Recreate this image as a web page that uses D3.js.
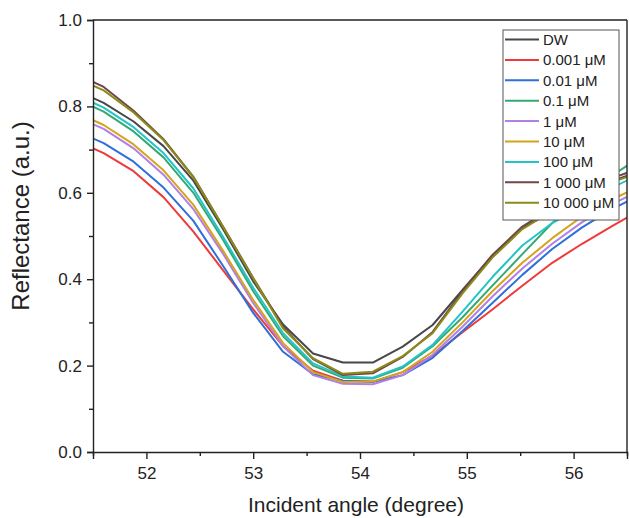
<!DOCTYPE html>
<html><head><meta charset="utf-8">
<script src="https://cdn.jsdelivr.net/npm/d3@7/dist/d3.min.js"></script>
<style>
html,body{margin:0;padding:0;background:#fff;}
svg text{font-family:"Liberation Sans",Arial,sans-serif;}
</style>
</head><body>
<svg id="chart" width="629" height="518"></svg>
<script>
// ---- data ----
const angles = [51.32, 51.60, 51.88, 52.16, 52.44, 52.72, 53.00, 53.28, 53.56, 53.84, 54.12, 54.40, 54.68, 54.96, 55.24, 55.52, 55.80, 56.08, 56.36, 56.64];
const seriesNames = ["DW", "0.001 μM", "0.01 μM", "0.1 μM", "1 μM", "10 μM", "100 μM", "1 000 μM", "10 000 μM"];
const seriesColors = ["#474747", "#ef3a3a", "#2e6fd9", "#35a974", "#b27fe6", "#d4a41c", "#22c4c8", "#6f4747", "#8b8b18"];
const dw     = [0.840, 0.808, 0.765, 0.708, 0.628, 0.515, 0.395, 0.295, 0.228, 0.207, 0.207, 0.244, 0.294, 0.375, 0.455, 0.520, 0.555, 0.592, 0.627, 0.652];
const c0001  = [0.722, 0.692, 0.650, 0.590, 0.510, 0.420, 0.330, 0.245, 0.188, 0.165, 0.163, 0.185, 0.223, 0.277, 0.330, 0.385, 0.438, 0.482, 0.523, 0.562];
const c001   = [0.745, 0.715, 0.672, 0.612, 0.535, 0.430, 0.322, 0.232, 0.180, 0.165, 0.162, 0.178, 0.218, 0.280, 0.345, 0.410, 0.470, 0.520, 0.562, 0.597];
const c01    = [0.820, 0.788, 0.742, 0.682, 0.600, 0.490, 0.372, 0.268, 0.200, 0.172, 0.170, 0.195, 0.245, 0.312, 0.385, 0.458, 0.530, 0.590, 0.640, 0.685];
const c1     = [0.778, 0.748, 0.703, 0.642, 0.562, 0.458, 0.345, 0.245, 0.178, 0.158, 0.157, 0.178, 0.225, 0.290, 0.360, 0.425, 0.482, 0.532, 0.574, 0.607];
const c10    = [0.788, 0.757, 0.712, 0.652, 0.572, 0.465, 0.352, 0.252, 0.185, 0.162, 0.163, 0.185, 0.232, 0.300, 0.372, 0.438, 0.495, 0.545, 0.585, 0.617];
const c100   = [0.830, 0.797, 0.752, 0.692, 0.610, 0.497, 0.380, 0.275, 0.205, 0.175, 0.172, 0.198, 0.248, 0.325, 0.405, 0.478, 0.530, 0.568, 0.612, 0.645];
const c1000  = [0.878, 0.845, 0.790, 0.724, 0.637, 0.521, 0.403, 0.290, 0.215, 0.178, 0.182, 0.220, 0.278, 0.372, 0.456, 0.522, 0.565, 0.602, 0.634, 0.658];
const c10000 = [0.868, 0.837, 0.786, 0.722, 0.636, 0.520, 0.402, 0.286, 0.217, 0.181, 0.186, 0.222, 0.275, 0.367, 0.450, 0.516, 0.558, 0.594, 0.625, 0.648];
const seriesValues = [dw, c0001, c001, c01, c1, c10, c100, c1000, c10000];
const xTicks = [52, 53, 54, 55, 56];
const xMinorTicks = [51.5, 52.5, 53.5, 54.5, 55.5, 56.5];
const yTicks = [0.0, 0.2, 0.4, 0.6, 0.8, 1.0];
const yMinorTicks = [0.1, 0.3, 0.5, 0.7, 0.9];
const xDomain = [51.5, 56.5];
const yDomain = [0, 1];

// ---- layout ----
const L = 93, R = 627, T = 20, B = 452;
const svg = d3.select("#chart");
const x = d3.scaleLinear().domain(xDomain).range([L, R]);
const y = d3.scaleLinear().domain(yDomain).range([B, T]);

svg.append("defs").append("clipPath").attr("id", "plotclip")
  .append("rect").attr("x", L).attr("y", T).attr("width", R - L).attr("height", B - T);

// lines
const line = d3.line().x((d, i) => x(angles[i])).y(d => y(d));
const gLines = svg.append("g").attr("clip-path", "url(#plotclip)");
seriesValues.forEach((vals, k) => {
  gLines.append("path").datum(vals)
    .attr("d", line)
    .attr("fill", "none")
    .attr("stroke", seriesColors[k])
    .attr("stroke-width", 2)
    .attr("stroke-linejoin", "round");
});

// frame (top and right)
svg.append("line").attr("x1", L).attr("x2", R).attr("y1", T).attr("y2", T).attr("stroke", "#222").attr("stroke-width", 1.4);
svg.append("line").attr("x1", R).attr("x2", R).attr("y1", T).attr("y2", B).attr("stroke", "#222").attr("stroke-width", 1.4);

// axes
const fmt = d3.format(".1f");
svg.append("g").attr("transform", `translate(0,${B})`)
  .call(d3.axisBottom(x).tickValues(xTicks).tickFormat(d3.format("d")).tickSize(7).tickPadding(8));
svg.append("g").attr("transform", `translate(0,${B})`)
  .call(d3.axisBottom(x).tickValues(xMinorTicks).tickFormat("").tickSize(4))
  .select(".domain").remove();
svg.append("g").attr("transform", `translate(${L},0)`)
  .call(d3.axisLeft(y).tickValues(yTicks).tickFormat(fmt).tickSize(6).tickPadding(5));
svg.append("g").attr("transform", `translate(${L},0)`)
  .call(d3.axisLeft(y).tickValues(yMinorTicks).tickFormat("").tickSize(4))
  .select(".domain").remove();

svg.selectAll(".domain").attr("stroke", "#222").attr("stroke-width", 1.4);
svg.selectAll(".tick line").attr("stroke", "#222").attr("stroke-width", 1.4);
svg.selectAll(".tick text").attr("fill", "#222").style("font-size", "17px")
  .style("font-family", "'Liberation Sans', Arial, sans-serif");

// axis titles
svg.append("text").attr("x", 356).attr("y", 512).attr("text-anchor", "middle")
  .attr("fill", "#222").style("font-size", "21px").text("Incident angle (degree)");
svg.append("text").attr("transform", "translate(29,216) rotate(-90)").attr("text-anchor", "middle")
  .attr("fill", "#222").style("font-size", "24px").text("Reflectance (a.u.)");

// legend
const lgX = 503, lgY = 30, lgW = 116, lgH = 190;
const lg = svg.append("g");
lg.append("rect").attr("x", lgX).attr("y", lgY).attr("width", lgW).attr("height", lgH)
  .attr("fill", "#fff").attr("stroke", "#555").attr("stroke-width", 1);
seriesNames.forEach((name, k) => {
  const cy = 39.5 + k * 20.4;
  lg.append("line").attr("x1", 505).attr("x2", 539).attr("y1", cy).attr("y2", cy)
    .attr("stroke", seriesColors[k]).attr("stroke-width", 2);
  lg.append("text").attr("x", 543).attr("y", cy + 5.5).attr("fill", "#222")
    .style("font-size", "15px").text(name);
});
</script>
</body></html>
